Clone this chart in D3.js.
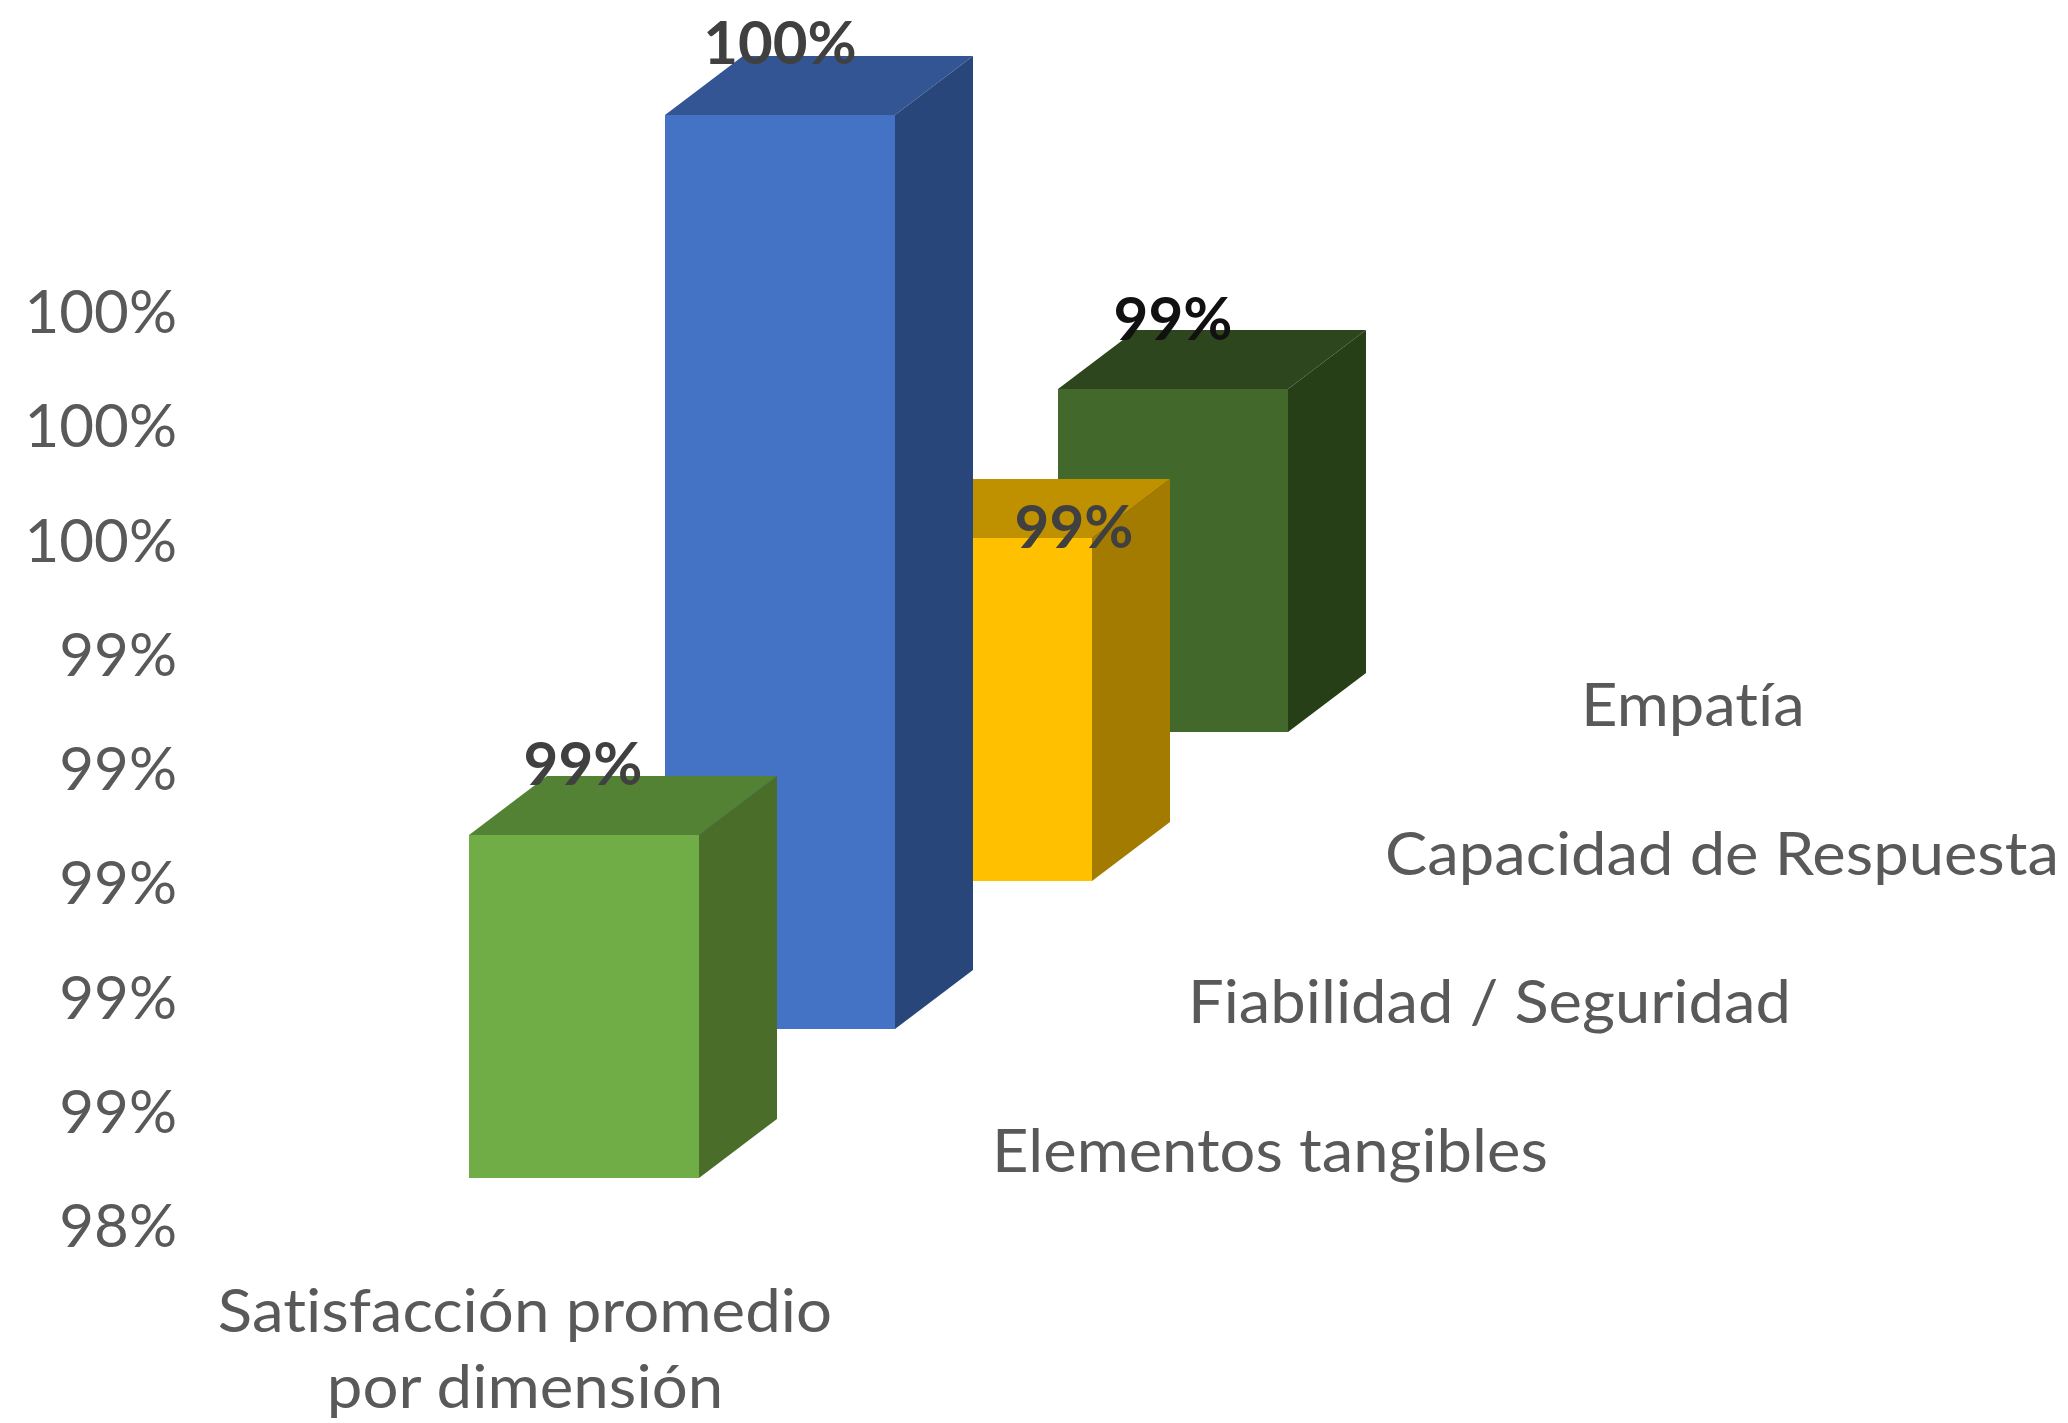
<!DOCTYPE html>
<html><head><meta charset="utf-8">
<script src="https://cdn.jsdelivr.net/npm/d3@7"></script>
<style>
html,body{margin:0;padding:0;background:#fff}
svg{display:block;filter:blur(0.7px)}
text{font-family:Lato,"Open Sans",sans-serif;font-variant-ligatures:none}
</style></head><body>
<svg id="c" width="2068" height="1423"></svg>
<script>
const categories = ["Elementos tangibles","Fiabilidad / Seguridad","Capacidad de Respuesta","Empatía"];
const values = [0.99,1.0,0.99,0.99];
const tickValues = [0.984,0.986,0.988,0.99,0.992,0.994,0.996,0.998,1.0];
const faceColors = ["#70AD47","#4472C4","#FFC000","#43682B"];
const topColors = ["#548235","#335593","#BF9000","#2E461D"];
const sideColors = ["#4A6D2A","#284679","#A37B00","#273F17"];
const labelColors = ["#404040","#404040","#404040","#111111"];
const axisTitle = ["Satisfacción promedio","por dimensión"];

const svg = d3.select("#c");
const barW = 230, dx = 78, dy = -59;
const y = d3.scaleLinear().domain([0.984,1.0]).range([1225,311]);
const h = v => Math.round(y(0.984)-y(v));
const depth = d3.scaleLinear().domain([0,3]).interpolate(d3.interpolateRound);
const xPos = depth.copy().range([469,1058]);
const basePos = depth.copy().range([1178,732]);

// stretch a text selection horizontally to the reference's wider glyphs
function widen(sel,f){
  sel.each(function(){
    this.setAttribute("textLength",this.getComputedTextLength()*f);
    this.setAttribute("lengthAdjust","spacingAndGlyphs");
  });
}

// value axis
const axis = d3.axisLeft(y).tickValues(tickValues).tickFormat(d3.format(".0%")).tickSize(0).tickPadding(0);
const ax = svg.append("g").attr("transform","translate(177,0)").call(axis);
ax.select(".domain").remove();
ax.selectAll("text").attr("font-size",60).attr("fill","#595959").attr("dy","0.36em").style("font-family","Lato");

// bars, drawn back to front
const idx = d3.range(categories.length).reverse();
const bars = svg.selectAll("g.bar").data(idx).join("g").attr("class","bar");
bars.append("rect")
  .attr("x",i=>xPos(i)).attr("y",i=>basePos(i)-h(values[i]))
  .attr("width",barW).attr("height",i=>h(values[i])).attr("fill",i=>faceColors[i]);
bars.append("polygon").attr("fill",i=>topColors[i]).attr("points",i=>{
  const x=xPos(i),t=basePos(i)-h(values[i]);
  return [[x,t],[x+barW,t],[x+barW+dx,t+dy],[x+dx,t+dy]].join(" ");
});
bars.append("polygon").attr("fill",i=>sideColors[i]).attr("points",i=>{
  const x=xPos(i)+barW,t=basePos(i)-h(values[i]),b=basePos(i);
  return [[x,t],[x+dx,t+dy],[x+dx,b+dy],[x,b]].join(" ");
});

// data labels (the third one sits moved on the bar's corner)
const labelShift = [[-1,-1],[0,-2],[97,59],[0,0]];
svg.selectAll("text.dl").data(d3.range(categories.length)).join("text").attr("class","dl")
  .attr("x",i=>xPos(i)+barW/2+labelShift[i][0])
  .attr("y",i=>basePos(i)-h(values[i])-71+labelShift[i][1])
  .attr("dy","0.36em").attr("text-anchor","middle")
  .attr("font-size",60).attr("font-weight",700).attr("fill",i=>labelColors[i])
  .text(i=>d3.format(".0%")(values[i]));

// category labels along the depth axis
svg.selectAll("text.cat").data(categories).join("text").attr("class","cat")
  .attr("x",(d,i)=>xPos(i)+523).attr("y",(d,i)=>basePos(i)-28)
  .attr("dy","0.36em").attr("font-size",60).attr("fill","#595959").text(d=>d)
  .call(widen,1.055);

// axis title
svg.selectAll("text.t").data(axisTitle).join("text").attr("class","t")
  .attr("x",525).attr("y",(d,i)=>1310+i*76).attr("dy","0.36em").attr("text-anchor","middle")
  .attr("font-size",60).attr("fill","#595959").text(d=>d)
  .call(widen,1.06);
</script></body></html>
